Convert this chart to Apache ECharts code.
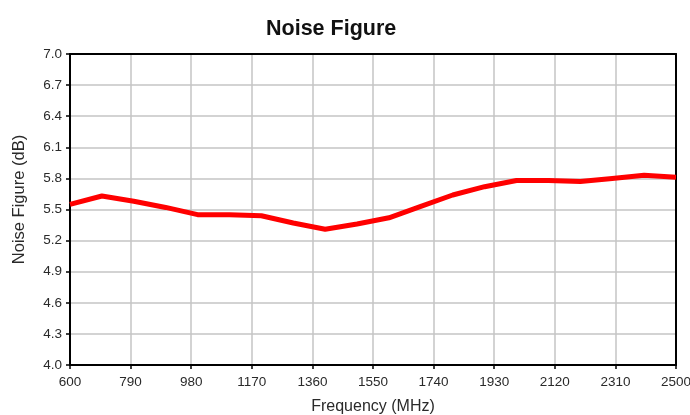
<!DOCTYPE html>
<html>
<head>
<meta charset="utf-8">
<script src="https://cdn.jsdelivr.net/npm/echarts@6/dist/echarts.min.js"></script>
<style>
  html, body { margin: 0; padding: 0; background: #fff; }
  #chart { width: 690px; height: 415px; }
</style>
</head>
<body>
<div id="chart"></div>
<script>
const frequencies = [600, 700, 800, 900, 1000, 1100, 1200, 1300, 1400, 1500, 1600, 1700, 1800, 1900, 2000, 2100, 2200, 2300, 2400, 2500];
const noiseFigure = [5.55, 5.63, 5.58, 5.52, 5.45, 5.45, 5.44, 5.37, 5.31, 5.36, 5.42, 5.53, 5.64, 5.72, 5.78, 5.78, 5.77, 5.80, 5.83, 5.81];
const xTicks = [600, 790, 980, 1170, 1360, 1550, 1740, 1930, 2120, 2310, 2500];
const yTicks = [4.0, 4.3, 4.6, 4.9, 5.2, 5.5, 5.8, 6.1, 6.4, 6.7, 7.0];

const font = 'Liberation Sans, Arial, sans-serif';
const labelColor = '#2a2a2a';
const frameAxis = { show: true, lineStyle: { color: '#000', width: 2 } };
const chart = echarts.init(document.getElementById('chart'));
chart.setOption({
  animation: false,
  title: {
    text: 'Noise Figure',
    left: 261,
    top: 13,
    textStyle: { fontFamily: font, fontSize: 21.5, fontWeight: 'bold', color: '#111' }
  },
  grid: {
    left: 70, right: 14, top: 54, bottom: 50,
    outerBoundsMode: 'none'
  },
  xAxis: [{
    type: 'value',
    min: 600, max: 2500,
    name: 'Frequency (MHz)',
    nameLocation: 'middle',
    nameGap: 34,
    nameTextStyle: { fontFamily: font, fontSize: 16, color: labelColor },
    axisLine: { show: true, onZero: false, lineStyle: { color: '#000', width: 2 } },
    axisTick: { show: true, length: 4, customValues: xTicks, lineStyle: { color: '#000', width: 1.5 } },
    axisLabel: { customValues: xTicks, formatter: v => String(v), fontFamily: font, fontSize: 13.5, color: labelColor, margin: 10 },
    splitLine: { show: true, lineStyle: { color: '#c4c4c4', width: 1.5 } }
  }, {
    type: 'value', position: 'top', min: 600, max: 2500,
    axisLine: frameAxis, axisTick: { show: false }, axisLabel: { show: false }, splitLine: { show: false }
  }],
  yAxis: [{
    type: 'value',
    min: 4, max: 7,
    name: 'Noise Figure (dB)',
    nameLocation: 'middle',
    nameGap: 42,
    nameTextStyle: { fontFamily: font, fontSize: 16.5, color: labelColor, padding: [0, 0, 0, 20] },
    axisLine: { show: true, lineStyle: { color: '#000', width: 2 } },
    axisTick: { show: true, length: 4, customValues: yTicks, lineStyle: { color: '#000', width: 1.5 } },
    axisLabel: { customValues: yTicks, formatter: v => v.toFixed(1), fontFamily: font, fontSize: 13.5, color: labelColor, margin: 8 },
    splitLine: { show: true, lineStyle: { color: '#c4c4c4', width: 1.5 } }
  }, {
    type: 'value', position: 'right', min: 4, max: 7,
    axisLine: frameAxis, axisTick: { show: false }, axisLabel: { show: false }, splitLine: { show: false }
  }],
  series: [{
    type: 'line',
    xAxisIndex: 0,
    yAxisIndex: 0,
    data: frequencies.map((f, i) => [f, noiseFigure[i]]),
    showSymbol: false,
    lineStyle: { color: '#ff0000', width: 5 },
    itemStyle: { color: '#ff0000' }
  }]
});
</script>
</body>
</html>
